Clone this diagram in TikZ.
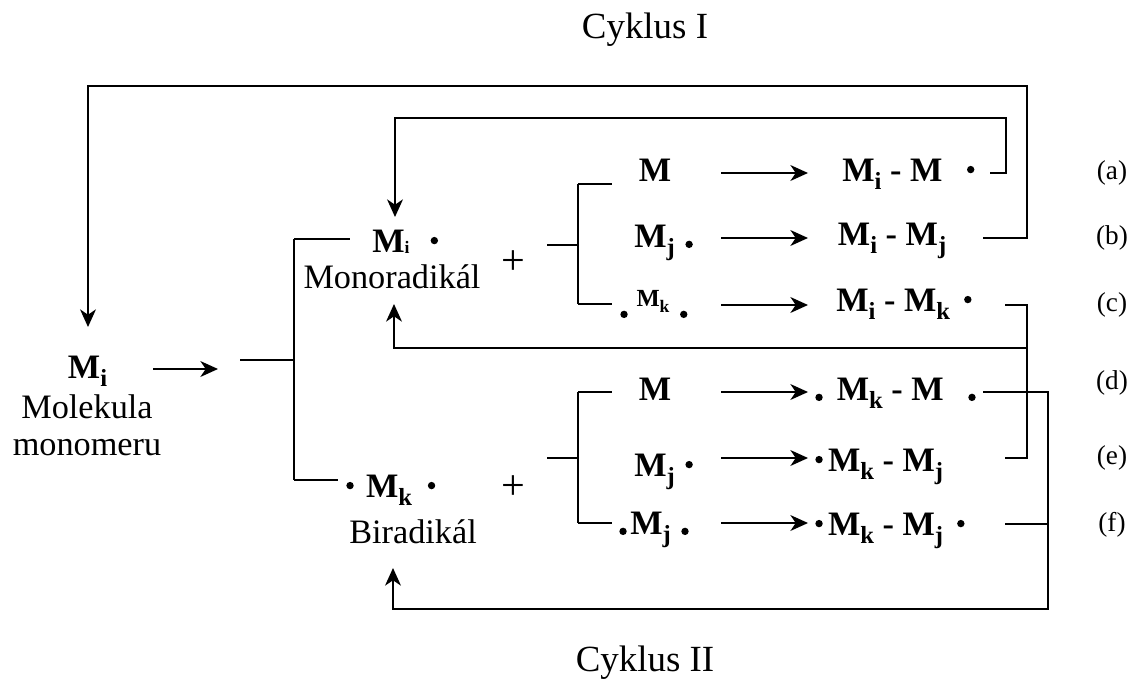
\documentclass[tikz,border=0pt]{standalone}
\usepackage{fontspec}
\setmainfont{Liberation Serif}
\usetikzlibrary{arrows.meta}
\def\lowidx#1{\raisebox{-0.25em}{\fontsize{14}{14}\selectfont\bfseries #1}}
\def\raddot{\tikz[baseline=-6.5pt]\fill (0,0) circle (2.1pt);}
\def\basedot{\tikz[baseline=-1.5pt]\fill (0,0) circle (2.1pt);}

\begin{document}
\begin{tikzpicture}[x=0.02cm, y=-0.02cm, line width=1.1pt,
		>={Stealth[length=10pt,width=9pt,inset=3pt]},
		every node/.style={font=\fontsize{19.5}{22}\selectfont, inner sep=0pt},
		chem/.style={anchor=base west, font=\fontsize{19.5}{22}\selectfont\bfseries},
		tag/.style={font=\fontsize{15.5}{17}\selectfont}]
		%%%%% START %%%%%
		
		\useasboundingbox (0,0) rectangle (1131,682);
		
		\node (cyka) at (645,30) {\fontsize{21}{24}\selectfont Cyklus I};
		\node (cykb) at (645,663) {\fontsize{21}{24}\selectfont Cyklus II};
		
		\node[chem] (mi) at (67,378) {M\lowidx{i}};
		\node (molek) at (87,407) {Molekula};
		\node (monom) at (87,448) {monomeru};
		
		\coordinate (mia) at (153,369);
		\coordinate (mib) at (218,369);
		\draw[->] (mia) -- (mib);
		
		\coordinate (bra) at (240,360);
		\coordinate (brt) at (294,239);
		\coordinate (brb) at (294,480);
		\draw (bra) -- (bra -| brt);
		\draw (brt) -- (brb);
		\draw (brt) -- ++(56,0);
		\draw (brb) -- ++(44,0);
		
		\node[chem] (mr) at (372,252) {M\raisebox{-0.05em}{\fontsize{10}{10}\selectfont i}\hspace{12pt}\raddot};
		\node (monor) at (392,277) {Monoradikál};
		\node (plusa) at (513,263) {\fontsize{24}{24}\selectfont +};
		
		\node[chem] (br) at (346,497) {\raddot\hspace{7pt}M\lowidx{k}\hspace{9pt}\raddot};
		\node (birad) at (413,532) {Biradikál};
		\node (plusb) at (513,488) {\fontsize{24}{24}\selectfont +};
		
		\draw (547,245) -- (578,245);
		\draw (578,184) -- (578,304);
		\draw (578,184) -- (612,184);
		\draw (578,304) -- (612,304);
		
		\draw (547,458) -- (578,458);
		\draw (578,392) -- (578,523);
		\draw (578,392) -- (612,392);
		\draw (578,523) -- (612,523);
		
		\node[chem] (ra) at (638,181) {M};
		\node[chem] (rb) at (634,247) {M\lowidx{j}\hspace{6pt}\basedot};
		\node[chem] (rc) at (620,317) {\basedot\hspace{5pt}\raisebox{6pt}{\fontsize{14}{14}\selectfont M\raisebox{-0.25em}{\fontsize{10}{10}\selectfont k}}\hspace{6pt}\basedot};
		\node[chem] (rd) at (638,400) {M};
		\node[chem] (re) at (634,476) {M\lowidx{j}\hspace{6pt}\raddot};
		\node[chem] (rf) at (619,534) {\basedot\hspace{2pt}M\lowidx{j}\hspace{6pt}\basedot};
		
		\draw[->] (721,173) -- (808,173);
		\draw[->] (721,238) -- (808,238);
		\draw[->] (721,305) -- (808,305);
		\draw[->] (721,392) -- (808,392);
		\draw[->] (721,458) -- (808,458);
		\draw[->] (721,523) -- (808,523);
		
		\node[chem] (pa) at (842,181) {M\lowidx{i} - M\hspace{14pt}\raddot};
		\node[chem] (pb) at (837,245) {M\lowidx{i} - M\lowidx{j}};
		\node[chem] (pc) at (836,311) {M\lowidx{i} - M\lowidx{k}\hspace{8pt}\raddot};
		\node[chem] (pd) at (815,400) {\basedot\hspace{8pt}M\lowidx{k} - M\hspace{14pt}\basedot};
		\node[chem] (pe) at (815,471) {\raddot\hspace{3pt}M\lowidx{k} - M\lowidx{j}};
		\node[chem] (pf) at (815,535) {\raddot\hspace{3pt}M\lowidx{k} - M\lowidx{j}\hspace{8pt}\raddot};
		
		\node[tag] (ta) at (1112,173) {(a)};
		\node[tag] (tb) at (1112,238) {(b)};
		\node[tag] (tc) at (1112,305) {(c)};
		\node[tag] (td) at (1112,383) {(d)};
		\node[tag] (te) at (1112,458) {(e)};
		\node[tag] (tf) at (1112,525) {(f)};
		
		% cyklus I
		\coordinate (ea) at (990,173);
		\coordinate (eb) at (983,238);
		\coordinate (ec) at (1005,305);
		\coordinate (ee) at (1005,458);
		\draw[->] (ea) -| (1006,118) -| (395,217);
		\draw[->] (eb) -| (1027,86) -| (88,327);
		\draw (ec) -- (1027,305) -- (1027,458) -- (ee);
		\draw[->] (1027,348) -| (394,304);
		
		% cyklus II
		\coordinate (ed) at (983,392);
		\coordinate (ef) at (1005,524);
		\draw (ed) -- (1048,392) |- (ef);
		\draw[->] (1048,392) |- (393,609) -- (393,568);
		
		%%%%% END %%%%%
\end{tikzpicture}
\end{document}
